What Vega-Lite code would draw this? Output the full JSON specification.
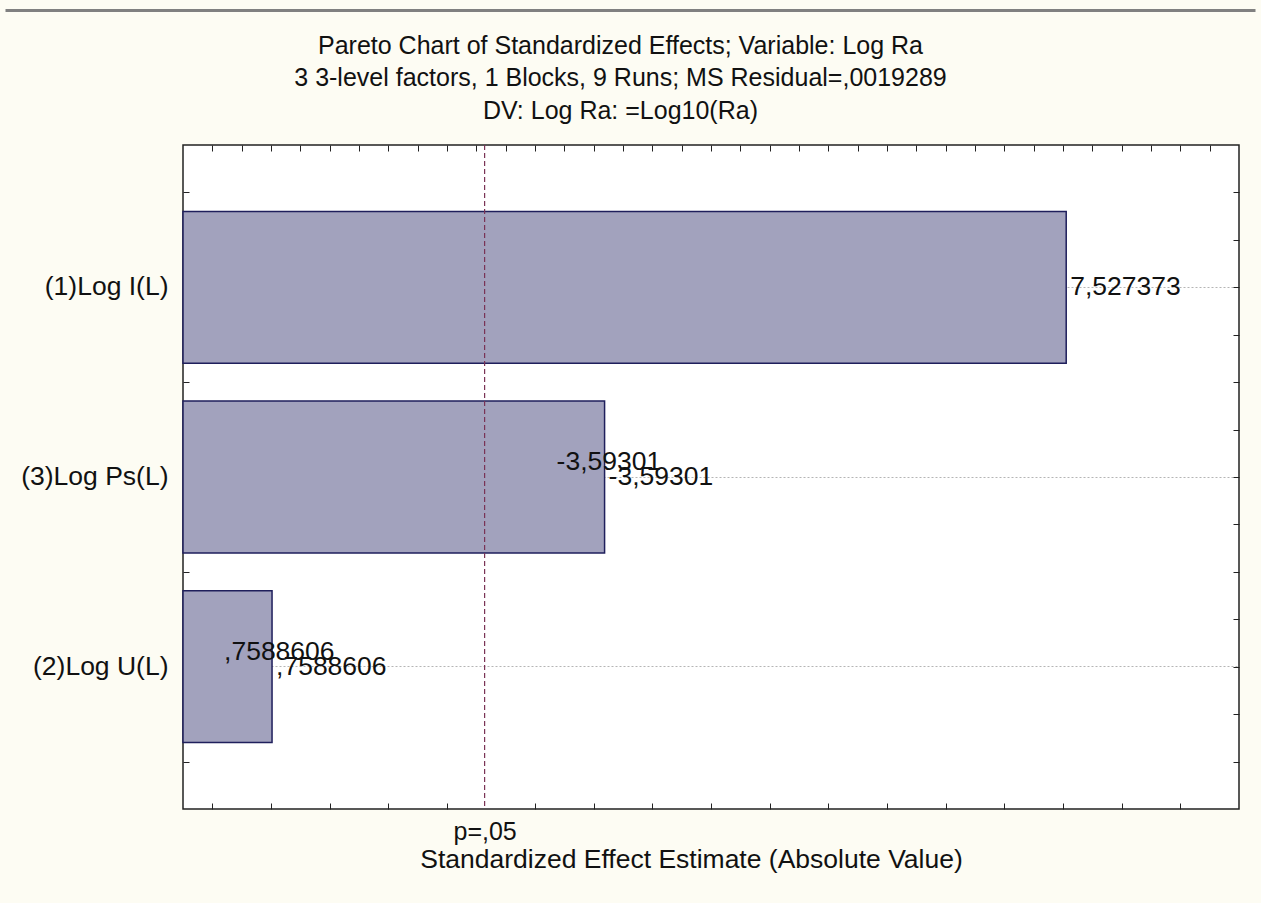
{
  "$schema": "https://vega.github.io/schema/vega-lite/v6.json",
  "width": 1056,
  "height": 664,
  "padding": {"left": 2, "top": 10, "right": 3, "bottom": 30},
  "background": "#fdfcf3",
  "config": {
    "font": "Liberation Sans",
    "view": {"fill": "#ffffff", "stroke": "#222222", "strokeWidth": 1.5},
    "axis": {
      "domain": false,
      "grid": false,
      "labelFont": "Liberation Sans",
      "titleFont": "Liberation Sans",
      "tickColor": "#222222",
      "labelColor": "#111111",
      "titleColor": "#111111",
      "titleFontWeight": "normal"
    }
  },
  "datasets": {
    "effects": [
      {"factor": "(1)Log I(L)", "effect": 7.527373, "label": "7,527373"},
      {"factor": "(3)Log Ps(L)", "effect": 3.59301, "label": "-3,59301"},
      {"factor": "(2)Log U(L)", "effect": 0.7588606, "label": ",7588606"}
    ],
    "critical": [{"p": 0.05, "t": 2.570582}]
  },
  "layer": [
    {
      "layer": [
        {
          "data": {"name": "effects"},
          "mark": {"type": "bar", "fill": "#a2a2bd", "stroke": "#1f1f5c", "strokeWidth": 1.5},
          "encoding": {
            "y": {
              "field": "factor", "type": "nominal", "sort": null,
              "scale": {"paddingInner": 0.2, "paddingOuter": 0.35},
              "axis": {
                "title": null, "ticks": false, "labelPadding": 15, "labelFontSize": 26.5,
                "grid": true, "gridDash": [2, 2], "gridColor": "#b5b5b5", "gridWidth": 1
              }
            },
            "x": {
              "field": "effect", "type": "quantitative",
              "scale": {"domain": [0, 9], "nice": false},
              "axis": {
                "title": "Standardized Effect Estimate (Absolute Value)",
                "titleFontSize": 26.5, "titlePadding": 2, "titleX": 508,
                "values": [0.25, 0.5, 0.75, 1, 1.25, 1.5, 1.75, 2, 2.25, 2.5, 2.570582, 2.75, 3, 3.25, 3.5, 3.75, 4, 4.25, 4.5, 4.75, 5, 5.25, 5.5, 5.75, 6, 6.25, 6.5, 6.75, 7, 7.25, 7.5, 7.75, 8, 8.25, 8.5, 8.75],
                "labelExpr": "(datum.value > 2.56 && datum.value < 2.58) ? 'p=,05' : ''",
                "labelFontSize": 25, "labelPadding": 16, "labelFlush": false, "labelOverlap": false,
                "tickSize": -6,
                "tickOpacity": {"condition": {"test": "datum.value > 2.56 && datum.value < 2.58", "value": 0}, "value": 1}
              }
            }
          }
        },
        {
          "data": {"name": "effects"},
          "mark": {"type": "text", "align": "left", "baseline": "middle", "dx": 4, "fontSize": 26.5, "color": "#111111"},
          "encoding": {
            "y": {"field": "factor", "type": "nominal", "sort": null},
            "x": {"field": "effect", "type": "quantitative"},
            "text": {"field": "label"}
          }
        },
        {
          "data": {"name": "effects"},
          "transform": [{"filter": "datum.effect < 5"}],
          "mark": {"type": "text", "align": "left", "baseline": "middle", "dx": -48, "dy": -15, "fontSize": 26.5, "color": "#111111"},
          "encoding": {
            "y": {"field": "factor", "type": "nominal", "sort": null},
            "x": {"field": "effect", "type": "quantitative"},
            "text": {"field": "label"}
          }
        },
        {
          "data": {"name": "critical"},
          "mark": {"type": "rule", "color": "#7a3355", "strokeDash": [5, 3], "strokeWidth": 1.2},
          "encoding": {
            "x": {"field": "t", "type": "quantitative"}
          }
        }
      ]
    },
    {
      "data": {"name": "critical"},
      "mark": {"type": "point", "opacity": 0},
      "encoding": {
        "x": {
          "datum": 0, "type": "quantitative",
          "scale": {"domain": [0, 9], "nice": false},
          "axis": {
            "orient": "top", "labels": false, "tickSize": -6,
            "values": [0.25, 0.5, 0.75, 1, 1.25, 1.5, 1.75, 2, 2.25, 2.5, 2.75, 3, 3.25, 3.5, 3.75, 4, 4.25, 4.5, 4.75, 5, 5.25, 5.5, 5.75, 6, 6.25, 6.5, 6.75, 7, 7.25, 7.5, 7.75, 8, 8.25, 8.5, 8.75],
            "title": ["Pareto Chart of Standardized Effects; Variable: Log Ra", "3 3-level factors, 1 Blocks, 9 Runs; MS Residual=,0019289", "DV: Log Ra: =Log10(Ra)"],
            "titleFontSize": 25, "titleLineHeight": 32.5, "titleX": 437, "titleY": -100,
            "titleBaseline": "middle", "titleAlign": "center", "titleAngle": 0
          }
        },
        "y": {
          "datum": 0, "type": "quantitative",
          "scale": {"domain": [0, 14], "nice": false},
          "axis": {
            "orient": "right", "labels": false, "tickSize": -6, "title": null,
            "values": [1, 2, 3, 4, 5, 6, 7, 8, 9, 10, 11, 12, 13]
          }
        }
      }
    },
    {
      "data": {"name": "critical"},
      "mark": {"type": "point", "opacity": 0},
      "encoding": {
        "x": {
          "datum": 0, "type": "quantitative",
          "scale": {"domain": [0, 1], "range": [-178, 1072], "nice": false},
          "axis": {
            "orient": "top", "offset": 135, "labels": false, "ticks": false, "title": null,
            "domain": true, "domainColor": "#808080", "domainWidth": 3
          }
        },
        "y": {
          "datum": 0, "type": "quantitative",
          "scale": {"domain": [0, 14], "nice": false},
          "axis": {
            "orient": "left", "labels": false, "tickSize": -6, "title": null,
            "values": [1, 2, 3, 4, 5, 6, 7, 8, 9, 10, 11, 12, 13]
          }
        }
      }
    }
  ],
  "resolve": {
    "scale": {"x": "independent", "y": "independent"},
    "axis": {"x": "independent", "y": "independent"}
  }
}
